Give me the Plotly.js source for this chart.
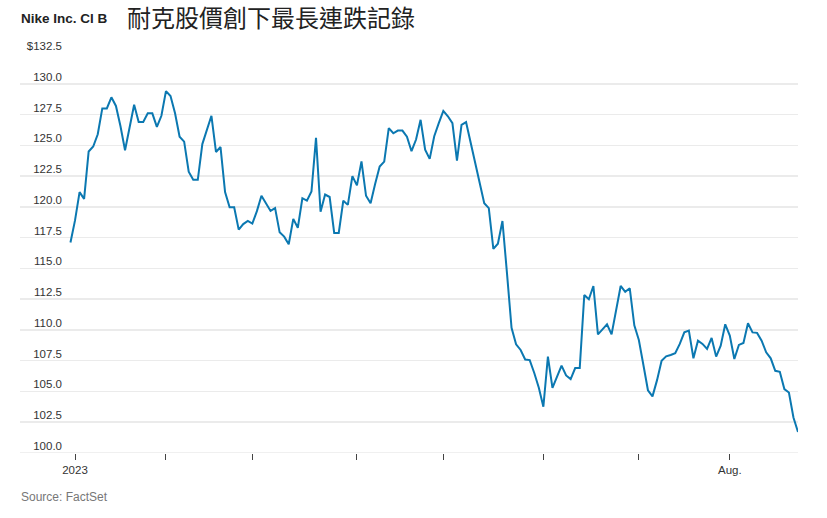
<!DOCTYPE html>
<html>
<head>
<meta charset="utf-8">
<script src="https://cdn.plot.ly/plotly-3.0.1.min.js"></script>
<style>html,body{margin:0;padding:0;background:#fff;}#chart{width:827px;height:518px;}</style>
</head>
<body>
<div id="chart"></div>
<script>
// Nike Inc. Cl B daily close, trading days from Dec 30 2022 to Aug 22 2023
const prices = [
117.1,118.9,121.2,120.65,124.5,124.9,125.9,128.0,128.0,128.9,
128.2,126.55,124.6,126.5,128.3,126.9,126.9,127.6,127.6,126.5,
127.4,129.4,129.0,127.6,125.7,125.3,122.85,122.2,122.2,125.1,
126.2,127.4,124.46,124.86,121.2,119.97,119.97,118.15,118.6,118.86,
118.64,119.65,120.9,120.24,119.67,119.9,117.93,117.58,116.96,119.02,
118.3,120.7,120.5,121.25,125.6,119.6,121.0,120.8,117.88,117.88,
120.5,120.16,122.5,121.74,123.7,120.9,120.3,121.86,123.27,123.68,
126.39,125.98,126.2,126.2,125.7,124.52,125.47,127.07,124.65,123.9,
125.74,126.8,127.8,127.36,126.8,123.76,126.66,126.88,125.25,123.6,
122.2,120.3,119.9,116.58,117.0,118.85,114.6,110.18,108.83,108.37,
107.6,107.55,106.5,105.3,103.76,107.83,105.3,106.25,107.1,106.3,
106.0,106.9,106.9,112.84,112.49,113.57,109.64,110.05,110.45,109.64,
111.67,113.57,113.1,113.38,110.37,109.18,107.15,105.1,104.6,105.92,
107.5,107.85,107.96,108.1,108.86,109.8,109.95,107.7,109.13,108.86,
108.45,109.35,107.83,108.72,110.46,109.54,107.64,108.78,108.94,110.54,
109.8,109.76,109.13,108.18,107.69,106.68,106.6,105.19,104.92,102.88,
101.71
];
// trading-day index of the first session of each month (Jan..Aug)
const monthTickIdx = [1, 21, 40, 63, 82, 104, 125, 145];
const monthTickText = ["2023", "", "", "", "", "", "", "Aug."];
const yTickVals = [100, 102.5, 105, 107.5, 110, 112.5, 115, 117.5, 120, 122.5, 125, 127.5, 130, 132.5];
const yTickText = ["100.0","102.5","105.0","107.5","110.0","112.5","115.0","117.5","120.0","122.5","125.0","127.5","130.0","$132.5"];
const yBase = 100;
const seriesName = "Nike Inc. Cl B";
const chartTitle = "耐克股價創下最長連跌記錄";
const sourceText = "Source: FactSet";

const dayIdx = prices.map((_, i) => i);

const trace = {
  x: dayIdx,
  y: prices,
  type: 'scatter',
  mode: 'lines',
  line: {color: '#0b78b1', width: 2},
  hoverinfo: 'skip',
  showlegend: false
};

const layout = {
  width: 827,
  height: 518,
  margin: {l: 20, r: 29, t: 53, b: 65},
  paper_bgcolor: '#ffffff',
  plot_bgcolor: '#ffffff',
  font: {family: 'Liberation Sans, Arial, sans-serif', color: '#333'},
  title: {
    text: chartTitle,
    font: {family: 'Noto Sans CJK TC, sans-serif', size: 24, color: '#222'},
    xref: 'container', yref: 'container',
    x: 127/827, xanchor: 'left',
    y: 1 - 19/518, yanchor: 'middle'
  },
  xaxis: {
    range: [-11.1, 160],
    tickmode: 'array',
    tickvals: monthTickIdx,
    ticktext: monthTickText,
    ticks: 'outside',
    ticklen: 6,
    tickwidth: 1,
    tickcolor: '#444',
    showgrid: false,
    zeroline: false,
    showline: false,
    tickfont: {size: 11.5, color: '#333'},
    fixedrange: true
  },
  yaxis: {
    range: [100, 132.5],
    anchor: 'free',
    position: (62 - 20) / 778,
    tickmode: 'array',
    tickvals: yTickVals,
    ticktext: yTickText,
    ticks: '',
    showgrid: true,
    gridcolor: '#ebebeb',
    gridwidth: 1.5,
    zeroline: false,
    showline: false,
    ticklabelshift: -7,
    tickfont: {size: 11.5, color: '#333'},
    fixedrange: true
  },
  shapes: [
    {type: 'line', xref: 'paper', yref: 'y', x0: 0, x1: 1, y0: yBase, y1: yBase,
     line: {color: '#ebebeb', width: 1.5}, layer: 'below'}
  ],
  annotations: [
    {
      text: '<b>' + seriesName + '</b>',
      xref: 'paper', yref: 'paper',
      x: (19 - 20) / 778, xanchor: 'left',
      y: (453 - 18) / 400, yanchor: 'middle',
      showarrow: false,
      font: {family: 'Liberation Sans, Arial, sans-serif', size: 13.5, color: '#222'}
    },
    {
      text: sourceText,
      xref: 'paper', yref: 'paper',
      x: (19 - 20) / 778, xanchor: 'left',
      y: (453 - 497) / 400, yanchor: 'middle',
      showarrow: false,
      font: {family: 'Liberation Sans, Arial, sans-serif', size: 12, color: '#777'}
    }
  ]
};

Plotly.newPlot('chart', [trace], layout, {staticPlot: true, displayModeBar: false});
</script>
</body>
</html>
